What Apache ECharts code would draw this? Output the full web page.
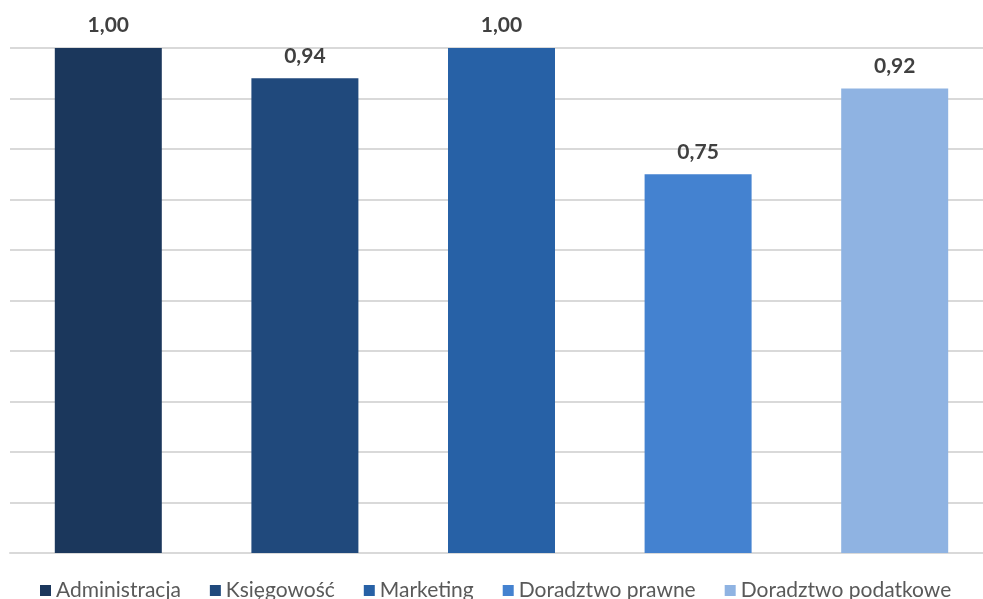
<!DOCTYPE html>
<html><head><meta charset="utf-8">
<script src="https://cdn.jsdelivr.net/npm/echarts@6/dist/echarts.min.js"></script>
<style>html,body{margin:0;padding:0;background:#fff;}#c{width:983px;height:599px;}</style>
</head><body><div id="c"></div>
<script>
const categories = ['Administracja', 'Księgowość', 'Marketing', 'Doradztwo prawne', 'Doradztwo podatkowe'];
const values = [1.00, 0.94, 1.00, 0.75, 0.92];
const colors = ['#1b375c', '#20497c', '#2761a6', '#4482d0', '#8fb3e2'];

const series = categories.map((name, i) => ({
  name: name,
  type: 'bar',
  barWidth: 107,
  barGap: '-100%',
  data: categories.map((c, j) => j === i ? values[i] : null),
  itemStyle: { color: colors[i] },
  label: {
    show: true, position: 'top', distance: 12,
    fontFamily: 'Lato', fontWeight: 'bold', fontSize: 21, color: '#404040',
    formatter: p => p.value.toFixed(2).replace('.', ',')
  }
}));

const chart = echarts.init(document.getElementById('c'));
chart.setOption({
  animation: false,
  grid: { left: 10, width: 983, top: 48, height: 505, outerBoundsMode: 'none', containLabel: false },
  legend: {
    top: 575, left: 35, itemWidth: 11, itemHeight: 11, itemGap: 29,
    icon: 'rect',
    textStyle: { fontFamily: 'Lato', fontSize: 21, color: '#595959' },
    data: categories
  },
  xAxis: {
    type: 'category', data: categories,
    axisLine: { lineStyle: { color: '#d9d9d9', width: 2 } },
    axisTick: { show: false }, axisLabel: { show: false }
  },
  yAxis: {
    type: 'value', min: 0, max: 1, interval: 0.1,
    axisLabel: { show: false }, axisLine: { show: false }, axisTick: { show: false },
    splitLine: { lineStyle: { color: '#d9d9d9', width: 2 } }
  },
  series: series
});
</script></body></html>
